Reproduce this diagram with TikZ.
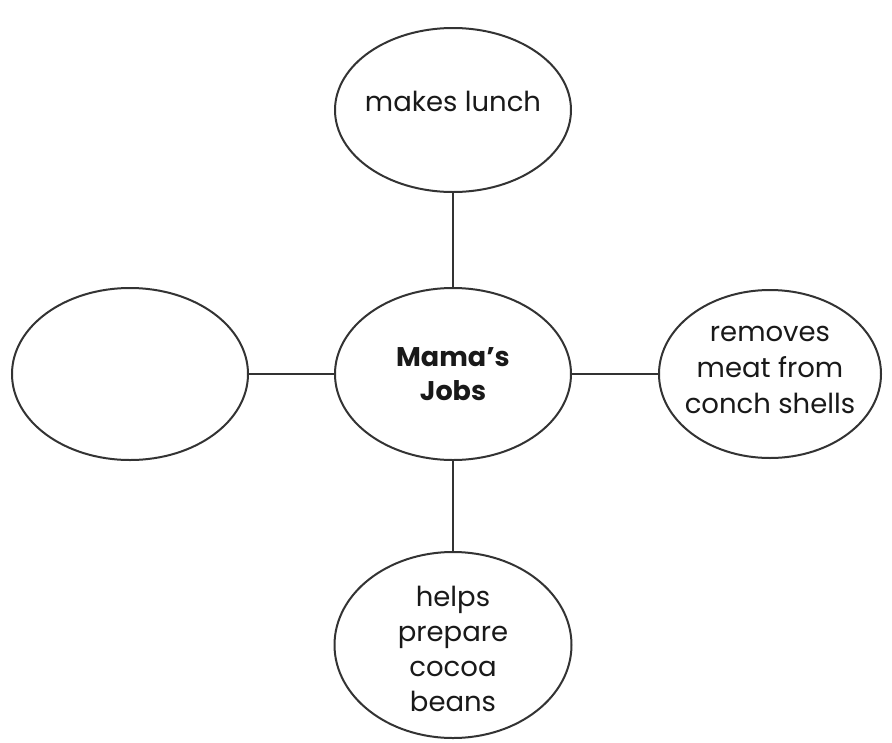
\documentclass[tikz,border=0pt]{standalone}
\usepackage{fontspec}
\setmainfont{Poppins}
\usetikzlibrary{shapes.geometric}
\begin{document}
\begin{tikzpicture}[x=1pt,y=-1pt,
  bubble/.style={draw=black!80, line width=2pt, ellipse, inner sep=0pt},
  bubbletext/.style={align=center, inner sep=0pt, font=\fontsize{27.5}{36}\selectfont, text=black!90},
  link/.style={draw=black!80, line width=1.4pt}]
\useasboundingbox (0,0) rectangle (892,742);
\node[bubble, minimum width=236pt, minimum height=164pt] (top) at (453,110) {};
\node[bubble, minimum width=236pt, minimum height=172pt] (mid) at (453,374) {};
\node[bubble, minimum width=236pt, minimum height=172pt] (left) at (130,374) {};
\node[bubble, minimum width=222pt, minimum height=168pt] (right) at (770,374) {};
\node[bubble, minimum width=237pt, minimum height=186pt] (bot) at (453,645) {};
\node[bubbletext] (toptext) at ([yshift=9pt]top.center) {makes lunch};
\node[bubbletext, font=\fontsize{27}{34}\selectfont\bfseries] (midtext) at (mid.center) {Mama’s\\Jobs};
\node[bubbletext] (righttext) at ([yshift=4pt]right.center) {removes\\meat from\\conch shells};
\node[bubbletext, font=\fontsize{27.5}{35}\selectfont] (bottext) at ([yshift=-4pt]bot.center) {helps\\prepare\\cocoa\\beans};
\draw[link] (top) -- (mid);
\draw[link] (mid) -- (left);
\draw[link] (mid) -- (right);
\draw[link] (mid) -- (bot);
\end{tikzpicture}
\end{document}
